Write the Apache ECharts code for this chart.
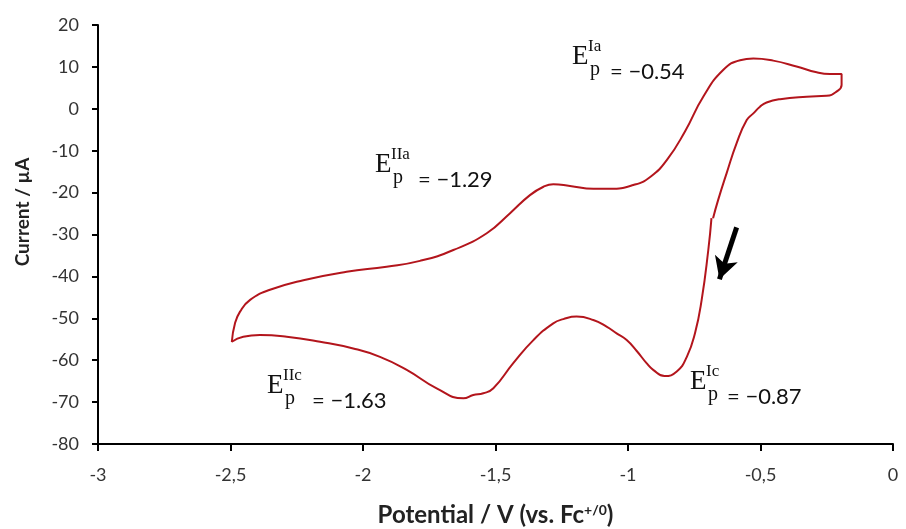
<!DOCTYPE html>
<html>
<head>
<meta charset="utf-8">
<title>Cyclic voltammogram</title>
<script src="https://cdn.jsdelivr.net/npm/echarts@6/dist/echarts.min.js"></script>
<style>
  html, body { margin: 0; padding: 0; background: #fff; }
  #main { width: 906px; height: 529px; }
</style>
</head>
<body>
<div id="main"></div>
<script>
// forward (cathodic) scan, from the start notch near -0.69 V down to -2.5 V
var cathodicV = [-0.685, -0.697, -0.722, -0.747, -0.778, -0.816, -0.862, -0.905, -0.930, -0.967,
  -1.005, -1.043, -1.081, -1.131, -1.194, -1.244, -1.282, -1.357, -1.433, -1.508,
  -1.546, -1.584, -1.621, -1.722, -1.835, -1.936, -2.037, -2.162, -2.288, -2.389,
  -2.452, -2.495];
var cathodicI = [-26.1, -33.7, -45.6, -53.5, -59.2, -62.7, -63.8, -62.3, -60.7, -57.8,
  -55.2, -53.6, -52.0, -50.4, -49.6, -50.2, -51.2, -55.2, -60.7, -66.7,
  -67.9, -68.3, -69.1, -66.7, -62.3, -59.2, -57.2, -55.6, -54.4, -54.0,
  -54.4, -55.6];

// reverse (anodic) scan, -2.5 V up to -0.2 V and back to the start
var anodicV = [-2.483, -2.464, -2.426, -2.351, -2.225, -2.062, -1.911, -1.785, -1.659, -1.533,
  -1.445, -1.370, -1.319, -1.282, -1.219, -1.131, -1.068, -0.980, -0.915, -0.851,
  -0.785, -0.715, -0.640, -0.577, -0.527, -0.452, -0.364, -0.288, -0.238, -0.194,
  -0.194, -0.213, -0.251, -0.326, -0.426, -0.477, -0.502, -0.527, -0.552, -0.590,
  -0.628, -0.660, -0.679];
var anodicI = [-51.2, -48.4, -45.6, -43.2, -40.9, -38.9, -37.7, -36.3, -33.7, -29.7,
  -24.9, -20.6, -18.6, -18.0, -18.4, -19.1, -19.1, -18.2, -16.2, -12.0,
  -5.4, 3.0, 9.3, 11.6, 12.0, 11.5, 10.1, 8.7, 8.3, 8.3,
  5.7, 4.1, 3.1, 2.9, 2.3, 1.5, 0.5, -1.1, -2.7, -8.2,
  -15.4, -21.8, -26.1];

var xRange = [-3, 0];
var yRange = [-80, 20];

// peak annotations
var peakNames = ['Ia', 'IIa', 'IIc', 'Ic'];
var peakPotentials = ['\u22120.54', '\u22121.29', '\u22121.63', '\u22120.87'];

// scan direction arrow (V, µA), tail to tip
var arrowFrom = [-0.590, -28.3];
var arrowTo = [-0.655, -40.7];

var loop = [];
for (var i = 0; i < cathodicV.length; i++) loop.push([cathodicV[i], cathodicI[i]]);
for (var j = 0; j < anodicV.length; j++) loop.push([anodicV[j], anodicI[j]]);

// label positions in px: [E left, E centre y, value offset]
var labelPos = [[572, 57, 38], [375, 165, 43], [267, 386, 45], [690, 382, 37]];

function epLabel(pos, sup, value) {
  var serif = '"Liberation Serif", "DejaVu Serif", serif';
  return {
    type: 'group', x: pos[0], y: pos[1], silent: true,
    children: [
      { type: 'text', x: 0, y: 0, style: { text: 'E', fontFamily: serif, fontSize: 27, fill: '#111', verticalAlign: 'middle' } },
      { type: 'text', x: 16, y: -10, style: { text: sup, fontFamily: serif, fontSize: 17, fill: '#111', verticalAlign: 'middle' } },
      { type: 'text', x: 18, y: 13, style: { text: 'p', fontFamily: serif, fontSize: 20, fill: '#111', verticalAlign: 'middle' } },
      { type: 'text', x: pos[2], y: 15, style: { text: '= ' + value, fontFamily: 'Lato', fontSize: 22, fill: '#111', verticalAlign: 'middle' } }
    ]
  };
}

var graphics = [];
for (var k = 0; k < peakNames.length; k++) {
  graphics.push(epLabel(labelPos[k], peakNames[k], peakPotentials[k]));
}

var chart = echarts.init(document.getElementById('main'), null, { renderer: 'canvas' });

chart.setOption({
  animation: false,
  backgroundColor: '#fff',
  grid: { left: 98, right: 13, top: 25, bottom: 85, containLabel: false, outerBoundsMode: 'none' },
  xAxis: {
    type: 'value',
    min: xRange[0], max: xRange[1], interval: 0.5,
    name: 'Potential / V (vs. Fc{sup|+/0})',
    nameLocation: 'middle',
    nameGap: 59,
    nameTextStyle: {
      fontFamily: 'Lato', fontSize: 24, fontWeight: 'bold', color: '#222',
      rich: { sup: { fontFamily: 'Lato', fontSize: 14, color: '#222', verticalAlign: 'top' } }
    },
    axisLine: { onZero: false, lineStyle: { color: '#000', width: 2 } },
    axisTick: { length: 7, lineStyle: { color: '#000', width: 2 } },
    axisLabel: {
      margin: 22, fontFamily: 'Lato', fontSize: 18, color: '#333',
      formatter: function (v) { return String(v).replace('.', ','); }
    },
    splitLine: { show: false }
  },
  yAxis: {
    type: 'value',
    min: yRange[0], max: yRange[1], interval: 10,
    name: 'Current / \u00b5A',
    nameLocation: 'middle',
    nameGap: 66,
    nameTextStyle: { fontFamily: 'Lato', fontSize: 19, fontWeight: 'bold', color: '#222', padding: [0, 0, 0, 45] },
    axisLine: { show: true, onZero: false, lineStyle: { color: '#000', width: 2 } },
    axisTick: { show: true, length: 6, lineStyle: { color: '#000', width: 2 } },
    axisLabel: { margin: 19, fontFamily: 'Lato', fontSize: 18, color: '#333' },
    splitLine: { show: false }
  },
  series: [{
    type: 'line',
    data: loop,
    showSymbol: false,
    smooth: 0.5,
    lineStyle: { color: '#b3151c', width: 2 },
    itemStyle: { color: '#b3151c' },
    markLine: {
      silent: true,
      symbol: ['none', 'arrow'],
      symbolSize: [18, 22],
      lineStyle: { color: '#000', width: 5, type: 'solid' },
      itemStyle: { color: '#000' },
      label: { show: false },
      emphasis: { disabled: true },
      data: [[{ coord: arrowFrom }, { coord: arrowTo }]]
    }
  }],
  graphic: graphics
});
</script>
</body>
</html>
